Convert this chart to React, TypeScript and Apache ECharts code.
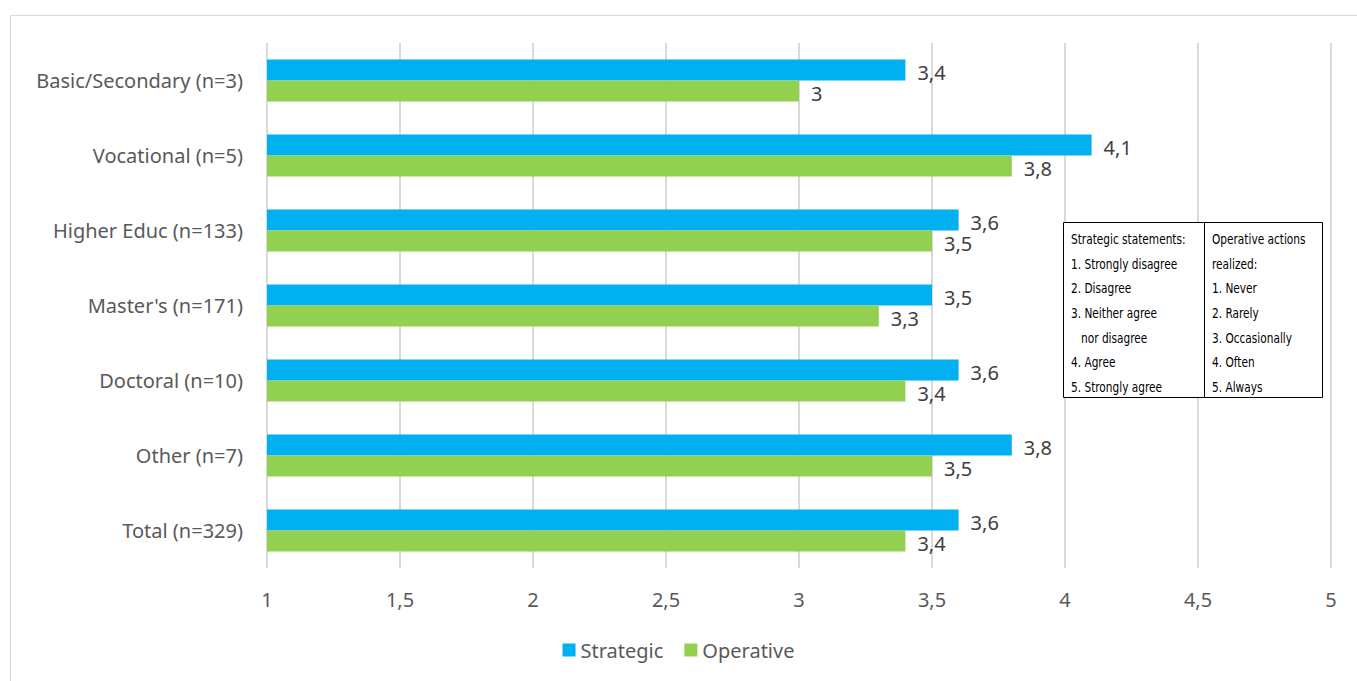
import React, { useEffect, useRef } from "react";
import * as echarts from "echarts";

const categories = [
  "Basic/Secondary (n=3)",
  "Vocational (n=5)",
  "Higher Educ (n=133)",
  "Master's (n=171)",
  "Doctoral (n=10)",
  "Other (n=7)",
  "Total (n=329)",
];
const strategic = [3.4, 4.1, 3.6, 3.5, 3.6, 3.8, 3.6];
const operative = [3, 3.8, 3.5, 3.3, 3.4, 3.5, 3.4];
const boxLeft = [
  "Strategic statements:",
  "1. Strongly disagree",
  "2. Disagree",
  "3. Neither agree",
  "   nor disagree",
  "4. Agree",
  "5. Strongly agree",
];
const boxRight = [
  "Operative actions",
  "realized:",
  "1. Never",
  "2. Rarely",
  "3. Occasionally",
  "4. Often",
  "5. Always",
];

const FONT = "'Noto Sans', 'Open Sans', sans-serif";
const NARROW = "'DejaVu Sans Condensed', 'Liberation Sans Narrow', sans-serif";
const fmt = (v: number) => String(v).replace(".", ",");

export default function App() {
  const ref = useRef<HTMLDivElement>(null);
  useEffect(() => {
    const chart = echarts.init(ref.current!, null, { renderer: "svg" });
    const boxX = 1063, boxY = 222, boxW = 259, boxH = 175, divX = 1204;
    const graphics: any[] = [
      {
        type: "rect",
        shape: { x: 10.5, y: 15.5, width: 1400, height: 700 },
        style: { fill: "none", stroke: "#d9d9d9", lineWidth: 1 },
        z: -10,
      },
      {
        type: "rect",
        shape: { x: boxX + 0.5, y: boxY + 0.5, width: boxW, height: boxH },
        style: { fill: "#fff", stroke: "#000", lineWidth: 1 },
        z: 100,
      },
      {
        type: "line",
        shape: { x1: divX + 0.5, y1: boxY, x2: divX + 0.5, y2: boxY + boxH },
        style: { stroke: "#000", lineWidth: 1 },
        z: 101,
      },
    ];
    const addCol = (arr: string[], x: number) =>
      arr.forEach((t, i) => {
        graphics.push({
          type: "text",
          x,
          y: 239 + i * 24.7,
          scaleX: 0.81,
          z: 102,
          style: { text: t, font: `14.5px ${NARROW}`, fill: "#000", verticalAlign: "middle" },
        });
      });
    addCol(boxLeft, 1071);
    addCol(boxRight, 1212);

    const lbl = {
      show: true,
      position: "right",
      distance: 12,
      offset: [0, 2],
      formatter: (p: any) => fmt(p.value),
      fontSize: 20,
      color: "#404040",
      fontFamily: FONT,
    };
    chart.setOption({
      animation: false,
      textStyle: { fontFamily: FONT },
      grid: { left: 267, right: 26, top: 43, bottom: 113, containLabel: false },
      legend: {
        bottom: 16,
        left: "center",
        itemWidth: 13,
        itemHeight: 13,
        itemGap: 21,
        icon: "rect",
        textStyle: { fontSize: 20, color: "#595959", fontFamily: FONT },
        data: ["Strategic", "Operative"],
      },
      xAxis: {
        type: "value",
        min: 1,
        max: 5,
        interval: 0.5,
        axisLine: { show: false },
        axisTick: { show: false },
        splitLine: { show: true, lineStyle: { color: "#d9d9d9", width: 2 } },
        axisLabel: {
          formatter: (v: number) => fmt(v),
          fontSize: 20,
          color: "#595959",
          margin: 21,
          fontFamily: FONT,
        },
      },
      yAxis: {
        type: "category",
        data: categories,
        inverse: true,
        axisLine: { show: false },
        axisTick: { show: false },
        axisLabel: { fontSize: 20, color: "#595959", margin: 24, fontFamily: FONT },
      },
      series: [
        {
          name: "Strategic",
          type: "bar",
          data: strategic,
          barGap: "0%",
          barCategoryGap: "44%",
          itemStyle: { color: "#00B0F0" },
          label: lbl,
        },
        {
          name: "Operative",
          type: "bar",
          data: operative,
          itemStyle: { color: "#92D050" },
          label: lbl,
        },
      ],
      graphic: graphics,
    });
    return () => chart.dispose();
  }, []);
  return (
    <div
      ref={ref}
      style={{ position: "absolute", left: 0, top: 0, width: 1357, height: 681, background: "#fff" }}
    />
  );
}
